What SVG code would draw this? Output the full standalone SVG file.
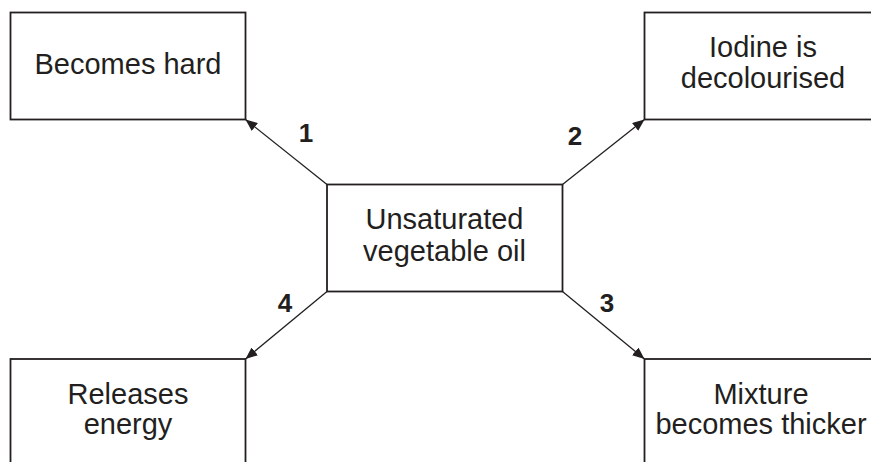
<svg xmlns="http://www.w3.org/2000/svg" width="871" height="462" viewBox="0 0 871 462">
<style>
.box{fill:#fff;stroke:#231f20;stroke-width:1.8}
.t{font-family:"Liberation Sans",Arial,sans-serif;font-size:29px;fill:#231f20;text-anchor:middle}
.n{font-family:"Liberation Sans",Arial,sans-serif;font-size:26px;font-weight:bold;fill:#231f20;text-anchor:middle}
.c{stroke:#231f20;stroke-width:1.3;fill:none;marker-end:url(#ah)}
</style>
<defs>
<marker id="ah" viewBox="0 0 12 10" refX="12" refY="5" markerWidth="12" markerHeight="10" markerUnits="userSpaceOnUse" orient="auto">
<path d="M0,0 L12,5 L0,10 Z" fill="#231f20"/>
</marker>
</defs>
<g id="connectors">
<line class="c" x1="327" y1="184.5" x2="245.5" y2="119.5"/>
<line class="c" x1="562.5" y1="184.5" x2="644.5" y2="119.5"/>
<line class="c" x1="562.5" y1="291.5" x2="644.5" y2="359"/>
<line class="c" x1="327" y1="291.5" x2="245.5" y2="359"/>
<text class="n" x="306" y="142">1</text>
<text class="n" x="575" y="145">2</text>
<text class="n" x="607" y="312">3</text>
<text class="n" x="285" y="312">4</text>
</g>
<g id="center">
<rect class="box" x="327" y="184.5" width="235.5" height="107"/>
<text class="t" x="444.5" y="229">Unsaturated</text>
<text class="t" x="444.5" y="261">vegetable oil</text>
</g>
<g id="hard">
<rect class="box" x="10.5" y="12.5" width="235" height="107"/>
<text class="t" x="128" y="74">Becomes hard</text>
</g>
<g id="iodine">
<rect class="box" x="644.5" y="12.5" width="236" height="107"/>
<text class="t" x="763" y="57">Iodine is</text>
<text class="t" x="763" y="88">decolourised</text>
</g>
<g id="energy">
<rect class="box" x="10.5" y="359" width="235" height="107"/>
<text class="t" x="128" y="404">Releases</text>
<text class="t" x="128" y="434">energy</text>
</g>
<g id="thicker">
<rect class="box" x="644.5" y="359" width="236" height="107"/>
<text class="t" x="761" y="404">Mixture</text>
<text class="t" x="761" y="434">becomes thicker</text>
</g>
</svg>
